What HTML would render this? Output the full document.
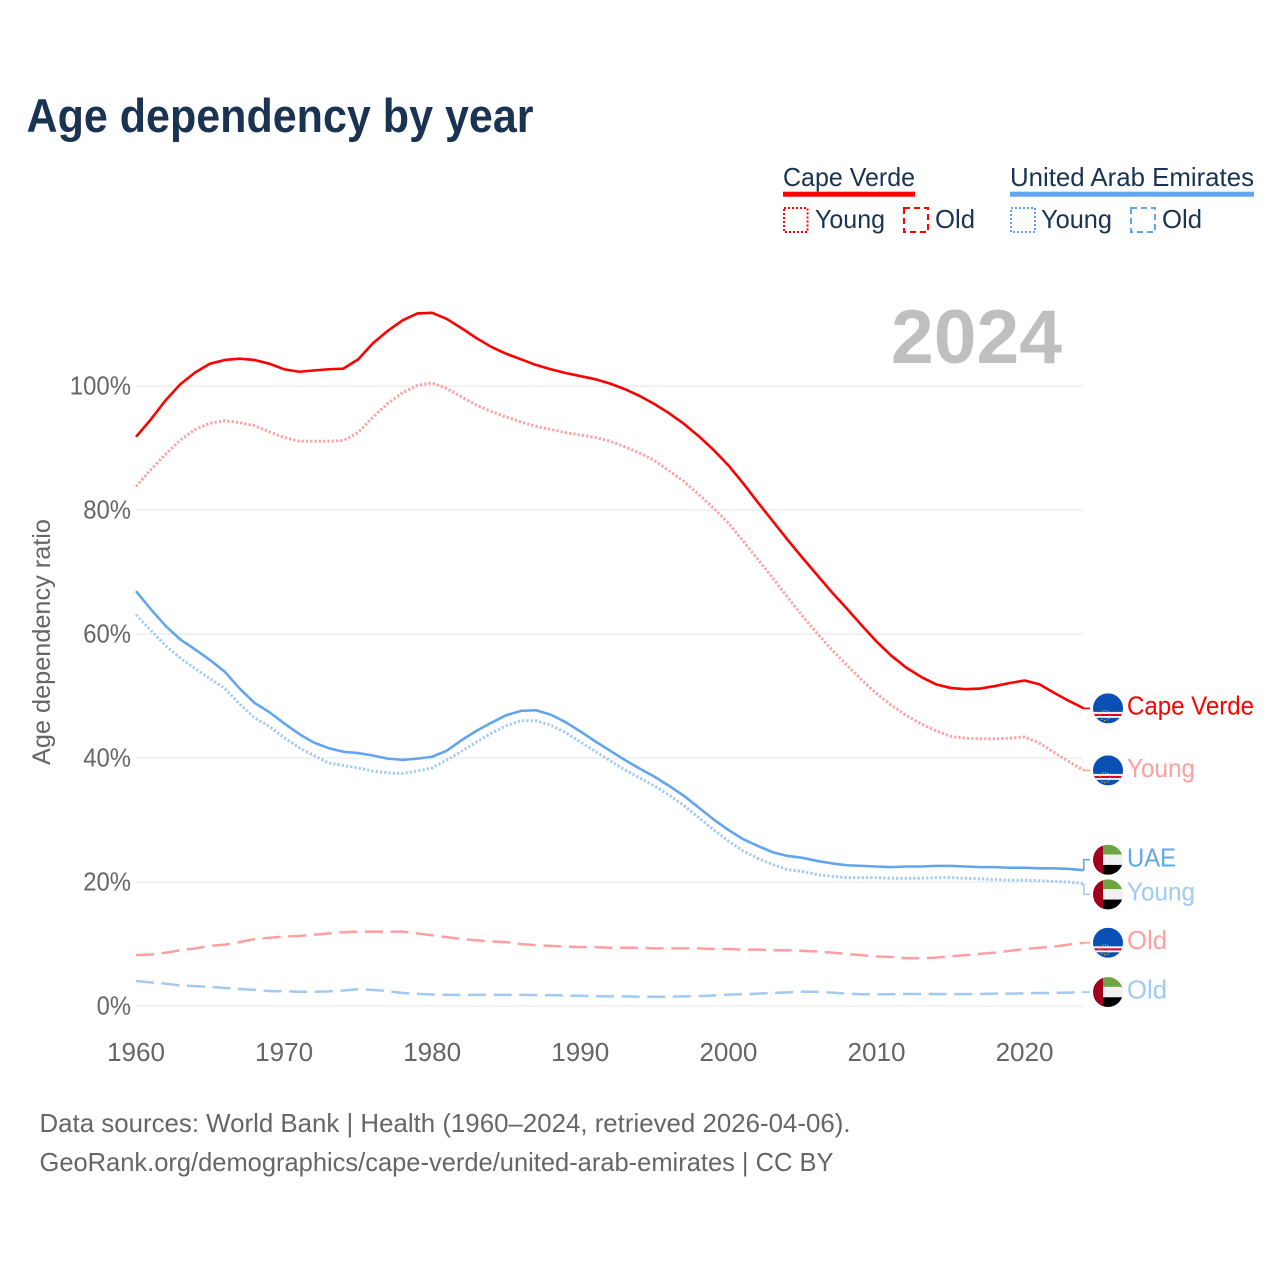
<!DOCTYPE html>
<html lang="en">
<head>
<meta charset="utf-8">
<title>Age dependency by year</title>
<style>
html,body{margin:0;padding:0;background:#fff;}
svg{display:block;font-family:"Liberation Sans",sans-serif;}
</style>
</head>
<body>
<svg id="chart" width="1280" height="1280" viewBox="0 0 1280 1280" xmlns="http://www.w3.org/2000/svg">
  <defs>
    <clipPath id="flag-clip-circle"><circle cx="0" cy="0" r="15"></circle></clipPath>
  </defs>
  <rect x="0" y="0" width="1280" height="1280" fill="#fff"></rect>
  <text x="26.5" y="132" font-size="47" font-weight="700" fill="#1a3352" textLength="507" lengthAdjust="spacingAndGlyphs">Age dependency by year</text>

  <g font-size="26" fill="#1a3352">
    <text x="783" y="186" textLength="132" lengthAdjust="spacingAndGlyphs">Cape Verde</text>
    <rect x="783" y="191.7" width="132" height="5" fill="#ff0000"></rect>
    <rect x="784" y="208" width="23.5" height="24" fill="none" stroke="#ff0000" stroke-width="2" stroke-dasharray="2 2"></rect>
    <text x="815" y="228" textLength="70" lengthAdjust="spacingAndGlyphs">Young</text>
    <rect x="904" y="208" width="24" height="24" fill="none" stroke="#ff0000" stroke-width="2" stroke-dasharray="6 4"></rect>
    <text x="935" y="228" textLength="40" lengthAdjust="spacingAndGlyphs">Old</text>

    <text x="1010" y="186" textLength="244" lengthAdjust="spacingAndGlyphs">United Arab Emirates</text>
    <rect x="1010" y="191.7" width="244" height="5" fill="#60a5ee"></rect>
    <rect x="1011" y="208" width="24" height="24" fill="none" stroke="#60a5ee" stroke-width="2" stroke-dasharray="2 2"></rect>
    <text x="1041" y="228" textLength="71" lengthAdjust="spacingAndGlyphs">Young</text>
    <rect x="1131" y="208" width="24" height="24" fill="none" stroke="#60a5ee" stroke-width="2" stroke-dasharray="6 4"></rect>
    <text x="1162" y="228" textLength="40" lengthAdjust="spacingAndGlyphs">Old</text>
  </g>

  <text x="891" y="363" font-size="76" font-weight="700" fill="#bfbfbf" textLength="171" lengthAdjust="spacingAndGlyphs">2024</text>
  <text transform="translate(50,642) rotate(-90)" text-anchor="middle" font-size="25" fill="#666666" textLength="246" lengthAdjust="spacingAndGlyphs">Age dependency ratio</text>

  <g id="grid"></g>
  <g id="y-axis"></g>
  <g id="x-axis"></g>
  <g id="series"></g>
  <g id="end-labels"></g>

  <g font-size="26" fill="#666666">
    <text x="39.5" y="1132" textLength="811" lengthAdjust="spacingAndGlyphs">Data sources: World Bank | Health (1960–2024, retrieved 2026-04-06).</text>
    <text x="39.5" y="1171" textLength="794" lengthAdjust="spacingAndGlyphs">GeoRank.org/demographics/cape-verde/united-arab-emirates | CC BY</text>
  </g>
</svg>

<script>
const startYear = 1960;
const endYear = 2024;
const xTickYears = [1960, 1970, 1980, 1990, 2000, 2010, 2020];
const yTickValues = [0, 20, 40, 60, 80, 100];

const capeVerdeTotal = [91.8,94.6,97.7,100.3,102.2,103.6,104.2,104.4,104.2,103.6,102.7,102.3,102.5,102.7,102.8,104.3,106.9,108.9,110.6,111.7,111.8,110.8,109.3,107.7,106.3,105.2,104.3,103.4,102.7,102.1,101.6,101.1,100.4,99.5,98.4,97.1,95.6,93.9,91.9,89.7,87.2,84.3,81.2,78.2,75.2,72.3,69.5,66.7,64.1,61.4,58.8,56.5,54.6,53.1,51.9,51.3,51.1,51.2,51.6,52.1,52.5,51.9,50.5,49.2,48.0];
const capeVerdeYoung = [83.8,86.5,89.0,91.3,93.0,94.0,94.4,94.1,93.6,92.6,91.7,91.1,91.1,91.1,91.2,92.5,95.0,97.2,98.9,100.1,100.5,99.6,98.2,96.9,95.9,95.0,94.2,93.5,93.0,92.5,92.1,91.7,91.1,90.2,89.2,88.0,86.3,84.6,82.5,80.3,77.9,75.0,72.0,69.0,65.9,62.9,60.1,57.4,55.0,52.6,50.4,48.5,46.9,45.5,44.4,43.5,43.2,43.1,43.1,43.2,43.4,42.4,40.9,39.4,38.0];
const capeVerdeOld = [8.2,8.3,8.6,9.0,9.3,9.7,9.9,10.3,10.8,11.0,11.2,11.3,11.5,11.7,11.9,12.0,12.0,12.0,12.0,11.7,11.4,11.1,10.8,10.6,10.4,10.3,10.0,9.8,9.7,9.6,9.5,9.5,9.4,9.4,9.4,9.3,9.3,9.3,9.3,9.2,9.2,9.1,9.1,9.0,9.0,8.9,8.8,8.6,8.4,8.2,8.0,7.9,7.7,7.7,7.8,8.0,8.2,8.4,8.6,8.9,9.2,9.4,9.6,9.9,10.2];
const uaeTotal = [66.9,64.0,61.3,59.1,57.5,55.8,53.9,51.2,48.9,47.4,45.6,43.9,42.5,41.6,41.0,40.8,40.4,39.9,39.7,39.9,40.2,41.2,42.9,44.4,45.7,46.9,47.6,47.7,47.0,45.8,44.3,42.7,41.2,39.7,38.3,37.0,35.5,33.9,32.0,30.1,28.4,26.9,25.8,24.8,24.2,23.9,23.4,23.0,22.7,22.6,22.5,22.4,22.5,22.5,22.6,22.6,22.5,22.4,22.4,22.3,22.3,22.2,22.2,22.1,21.9];
const uaeYoung = [63.1,60.6,58.1,56.1,54.4,52.8,51.2,48.7,46.5,45.1,43.3,41.7,40.4,39.2,38.8,38.4,37.9,37.6,37.5,37.9,38.4,39.7,41.1,42.6,44.0,45.2,46.0,46.0,45.3,44.1,42.6,41.1,39.6,38.1,36.8,35.5,34.0,32.3,30.4,28.4,26.6,25.0,23.8,22.8,22.0,21.7,21.2,20.9,20.7,20.7,20.7,20.6,20.6,20.6,20.7,20.7,20.6,20.5,20.4,20.3,20.3,20.2,20.1,20.0,19.7];
const uaeOld = [4.03,3.8,3.6,3.3,3.2,3.1,2.9,2.75,2.6,2.4,2.4,2.3,2.3,2.35,2.5,2.7,2.6,2.4,2.1,1.95,1.85,1.8,1.8,1.8,1.8,1.8,1.8,1.75,1.75,1.7,1.65,1.6,1.56,1.56,1.5,1.5,1.5,1.56,1.6,1.7,1.84,1.9,2.0,2.1,2.2,2.3,2.3,2.15,2.0,1.9,1.9,1.9,1.94,1.94,1.94,1.92,1.92,1.94,2.0,2.0,2.05,2.1,2.1,2.15,2.25];

const NS = 'http://www.w3.org/2000/svg';
const plotLeft = 136, plotRight = 1083.8, plotZeroY = 1006, pxPerPct = 6.2;
function xScale(year) { return plotLeft + (year - startYear) * (plotRight - plotLeft) / (endYear - startYear); }
function yScale(v) { return plotZeroY - v * pxPerPct; }
function mk(tag, attrs, parent) {
  const el = document.createElementNS(NS, tag);
  for (const k in attrs) el.setAttribute(k, attrs[k]);
  parent.appendChild(el);
  return el;
}

const gridG = document.getElementById('grid');
const yG = document.getElementById('y-axis');
yTickValues.forEach(function (v) {
  const line = mk('line', { x1: plotLeft, x2: 1083, y1: yScale(v), y2: yScale(v), stroke: '#e9e9e9', 'stroke-width': 1.2 }, gridG);
  
  
  const label = v + '%';
  const t = mk('text', { x: 131, y: yScale(v) + 8.5, 'text-anchor': 'end', 'font-size': 25.5, fill: '#666666', textLength: String(v).length * 13.4 + 21, lengthAdjust: 'spacingAndGlyphs' }, yG);
  
  
  t.textContent = label;
});

const xG = document.getElementById('x-axis');
xTickYears.forEach(function (yr) {
  const t = mk('text', { x: xScale(yr), y: 1061, 'text-anchor': 'middle', 'font-size': 25.5, fill: '#666666', textLength: 58, lengthAdjust: 'spacingAndGlyphs' }, xG);
  
  
  t.textContent = yr;
});

const RED = '#ff0000', RED_LIGHT = '#ff9f9f', BLUE = '#60a5ee', BLUE_LIGHT = '#a0c9f3';
const DOT = '2.2 2.1', DASH = '18 7.6';
const seriesG = document.getElementById('series');

function drawLine(values, color, width, dash, name) {
  const pts = values.map(function (v, i) { return xScale(startYear + i).toFixed(2) + ',' + yScale(v).toFixed(2); }).join(' ');
  const attrs = { points: pts, fill: 'none', stroke: color, 'stroke-width': width, 'stroke-linejoin': 'round' };
  if (dash) attrs['stroke-dasharray'] = dash;
  const el = mk('polyline', attrs, seriesG);
  
  
  return el;
}
drawLine(capeVerdeOld, RED_LIGHT, 2.5, DASH, 'line-cape-verde-old');
drawLine(uaeOld, BLUE_LIGHT, 2.5, DASH, 'line-uae-old');
drawLine(uaeYoung, BLUE_LIGHT, 2.9, DOT, 'line-uae-young');
drawLine(capeVerdeYoung, RED_LIGHT, 2.9, DOT, 'line-cape-verde-young');
drawLine(uaeTotal, BLUE, 2.6, null, 'line-uae-total');
drawLine(capeVerdeTotal, RED, 2.6, null, 'line-cape-verde-total');

const endG = document.getElementById('end-labels');

function capeVerdeFlag(cy, name) {
  const g = mk('g', { transform: 'translate(1108,' + cy + ')', 'clip-path': 'url(#flag-clip-circle)' }, endG);
  
  
  mk('rect', { x: -15, y: -15, width: 30, height: 30, fill: '#0a50b4' }, g);
  mk('rect', { x: -15, y: 3.5, width: 30, height: 6, fill: '#f0f0f0' }, g);
  mk('rect', { x: -15, y: 5.6, width: 30, height: 2, fill: '#d80027' }, g);
  mk('circle', { cx: -3, cy: 7, r: 5, fill: 'none', stroke: '#ffda44', 'stroke-width': 1, 'stroke-dasharray': '1 1.6' }, g);
}
function uaeFlag(cy, name) {
  const g = mk('g', { transform: 'translate(1108,' + cy + ')', 'clip-path': 'url(#flag-clip-circle)' }, endG);
  
  
  mk('rect', { x: -15, y: -15, width: 30, height: 10, fill: '#6da544' }, g);
  mk('rect', { x: -15, y: -5.2, width: 30, height: 10.4, fill: '#f0f0f0' }, g);
  mk('rect', { x: -15, y: 5.2, width: 30, height: 10, fill: '#000000' }, g);
  mk('rect', { x: -15, y: -15, width: 10, height: 30, fill: '#a2001d' }, g);
}
function endLabel(text, values, labelOffset, color, flagFn, textWidth, textDy, slug) {
  const y0 = yScale(values[values.length - 1]);
  const cy = y0 + labelOffset;
  const pts = labelOffset === 0
    ? plotRight + ',' + y0 + ' 1090,' + cy
    : plotRight + ',' + y0 + ' ' + plotRight + ',' + cy + ' 1090,' + cy;
  const attrs = { points: pts, fill: 'none', stroke: color, 'stroke-width': 1.6 };
  const c = mk('polyline', attrs, endG);
  
  
  flagFn(cy, 'flag-' + slug);
  const t = mk('text', { x: 1127, y: cy + textDy, 'font-size': 26, fill: color, textLength: textWidth, lengthAdjust: 'spacingAndGlyphs' }, endG);
  
  
  t.textContent = text;
}
endLabel('Cape Verde', capeVerdeTotal, 0, RED, capeVerdeFlag, 127, 6, 'cape-verde-total');
endLabel('Young', capeVerdeYoung, 0, RED_LIGHT, capeVerdeFlag, 68, 6.5, 'cape-verde-young');
endLabel('UAE', uaeTotal, -10.5, BLUE, uaeFlag, 49, 7, 'uae-total');
endLabel('Young', uaeYoung, 10.5, BLUE_LIGHT, uaeFlag, 68, 6, 'uae-young');
endLabel('Old', capeVerdeOld, 0, RED_LIGHT, capeVerdeFlag, 40, 6, 'cape-verde-old');
endLabel('Old', uaeOld, 0, BLUE_LIGHT, uaeFlag, 40, 6.5, 'uae-old');
</script>
</body>
</html>
